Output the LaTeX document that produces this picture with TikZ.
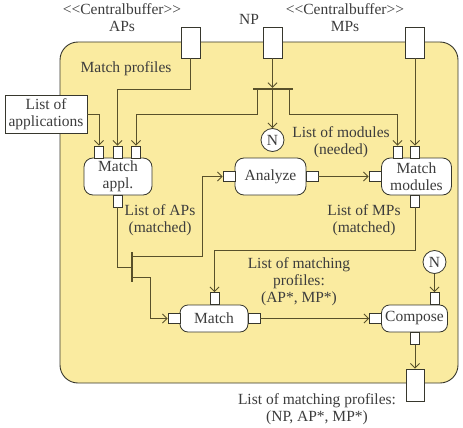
\documentclass[tikz,border=0pt]{standalone}
\usepackage{fontspec}
\setmainfont{Liberation Serif}
\usetikzlibrary{arrows.meta,calc}
\definecolor{fillY}{RGB}{250,235,160}
\definecolor{lineC}{RGB}{88,80,42}
\definecolor{boxC}{RGB}{55,55,45}
\definecolor{txtC}{RGB}{60,60,60}
\newcommand{\cbuf}{\textless\kern0pt\textless Centralbuffer\textgreater\kern0pt\textgreater}
\begin{document}
\begin{tikzpicture}[x=1pt,y=-1pt,
  every node/.style={font=\fontsize{15.5}{17}\selectfont, text=txtC},
  port/.style={draw=boxC, fill=white, line width=0.8pt, inner sep=0pt},
  vport/.style={port, minimum width=9pt, minimum height=12pt},
  hport/.style={port, minimum width=12pt, minimum height=10pt},
  bport/.style={port, minimum width=19pt, minimum height=31pt},
  proc/.style={draw=boxC, fill=white, line width=0.8pt, rounded corners=9pt, align=center, inner sep=0pt},
  nnode/.style={circle, draw=boxC, fill=white, line width=0.8pt, minimum size=23pt, inner sep=0pt},
  forkbar/.style={fill=lineC, inner sep=0pt},
  conn/.style={draw=lineC, line width=0.9pt},
  arr/.style={conn, -{Straight Barb[length=4.5pt,width=9pt]}},
  lbl/.style={align=center, inner sep=0pt}]
\useasboundingbox (0,0) rectangle (463,428);
% frame
\draw[draw=boxC, fill=fillY, line width=0.9pt, rounded corners=18pt] (60,42) rectangle (458,383);
% processes
\node[proc, minimum width=68pt, minimum height=37pt] (mapp) at (118,176.5) {Match\\appl.};
\node[proc, minimum width=71pt, minimum height=37pt] (ana) at (270.5,176.5) {Analyze};
\node[proc, minimum width=70pt, minimum height=37pt] (mmod) at (416.5,176.5) {Match\\modules};
\node[proc, minimum width=68pt, minimum height=27pt, rounded corners=8pt] (match) at (214,318.5) {Match};
\node[proc, minimum width=66pt, minimum height=27pt, rounded corners=8pt] (comp) at (414.5,318.5) {Compose};
% ports
\node[vport] (ma1) at (99,152) {};
\node[vport] (ma2) at (117.5,152) {};
\node[vport] (ma3) at (136,152) {};
\node[vport] (mab) at (117.5,201) {};
\node[hport] (anl) at (229,176.5) {};
\node[hport] (anr) at (312,176.5) {};
\node[vport] (mm1) at (397.5,152) {};
\node[vport] (mm2) at (415,152) {};
\node[hport] (mml) at (375,176.5) {};
\node[vport] (mmb) at (415,201) {};
\node[hport] (mtl) at (174,318.5) {};
\node[hport] (mtr) at (254,318.5) {};
\node[vport] (mtt) at (214.5,298.5) {};
\node[hport] (cpl) at (375.5,318.5) {};
\node[vport] (cpt) at (434.5,298.5) {};
\node[vport] (cpb) at (415,338.5) {};
\node[bport] (pAP) at (190.5,42.5) {};
\node[bport] (pNP) at (272.5,42.5) {};
\node[bport] (pMP) at (415,42.5) {};
\node[port, minimum width=18pt, minimum height=32pt] (pOut) at (415,385) {};
% list of applications
\node[draw=boxC, fill=white, line width=0.8pt, align=center, inner sep=0pt, minimum width=82pt, minimum height=38pt] (loa) at (46,114) {List of\\applications};
% N circles
\node[nnode] (n1) at (272.5,140) {N};
\node[nnode] (n2) at (434.5,262) {N};
% forks
\node[forkbar, minimum width=40pt, minimum height=2pt] (fork1) at (272.5,89) {};
\node[forkbar, minimum width=2pt, minimum height=30pt] (fork2) at (132,267) {};
% connectors
\draw[arr] (pNP.south) -- (fork1.north);
\draw[arr] (fork1.south) -- (n1.north);
\draw[arr] ([xshift=-15pt]fork1.south) -- ++(0,24) -| (ma3.north);
\draw[arr] ([xshift=17pt]fork1.south) -- ++(0,24) -| (mm1.north);
\draw[arr] (pAP.south) -- ++(0,31) -| (ma2.north);
\draw[arr] (loa.east) -| (ma1.north);
\draw[arr] (pMP.south) -- (mm2.north);
\draw[conn] (mab.south) |- (fork2.west);
\draw[arr] ([yshift=11pt]fork2.east) -- ++(69,0) |- (anl.west);
\draw[arr] ([yshift=-10pt]fork2.east) -- ++(17,0) |- (mtl.west);
\draw[arr] (mmb.south) -- ++(0,43) -| (mtt.north);
\draw[arr] (anr.east) -- (mml.west);
\draw[arr] (mtr.east) -- (cpl.west);
\draw[arr] (n2.south) -- (cpt.north);
\draw[arr] (cpb.south) -- (pOut.north);
% labels
\node[lbl] (tAP) at (122,18) {\cbuf\\APs};
\node[lbl] (tNP) at (249,19) {NP};
\node[lbl] (tMP) at (345,18) {\cbuf\\MPs};
\node[lbl] (tmp) at (126,69) {Match profiles};
\node[lbl] (tmod) at (341,142) {List of modules\\(needed)};
\node[lbl] (taps) at (160,220) {List of APs\\(matched)};
\node[lbl] (tmps) at (364,220) {List of MPs\\(matched)};
\node[lbl] (tlm) at (299,282) {List of matching\\profiles:\\(AP*, MP*)};
\node[lbl] (tout) at (317,409) {List of matching profiles:\\(NP, AP*, MP*)};
\end{tikzpicture}
\end{document}
